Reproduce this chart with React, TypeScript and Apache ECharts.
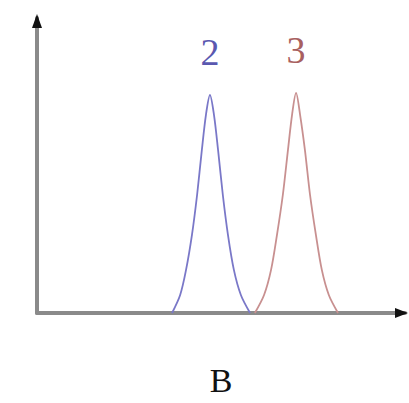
import React, { useEffect, useRef } from "react";
import * as echarts from "echarts";

// Peak "2" (blue) sample points: x position and intensity
const peak2X = [36.7, 38.9, 40.5, 42.1, 43.5, 44.8, 45.9, 47.0, 48.1, 49.2, 50.5, 51.9, 53.5, 55.4, 57.9];
const peak2Y = [0, 6.1, 14.6, 26.4, 40.0, 55.3, 67.1, 73.9, 67.1, 55.3, 40.0, 26.4, 14.6, 6.1, 0];

// Peak "3" (red) sample points
const peak3X = [59.2, 61.7, 63.6, 65.2, 66.8, 68.2, 69.3, 70.4, 71.5, 72.8, 74.2, 75.8, 77.4, 79.3, 81.8];
const peak3Y = [0, 6.1, 14.6, 26.4, 40.0, 55.3, 67.1, 74.6, 67.1, 55.3, 40.0, 26.4, 14.6, 6.1, 0];

const peakNames = ["2", "3"];
const axisName = "B";

const SERIF = "'Liberation Serif', 'DejaVu Serif', serif";

function pairs(xs: number[], ys: number[]) {
  return xs.map((x, i) => [x, ys[i]]);
}

// Text label sitting above the top of a peak
function peakLabel(xs: number[], ys: number[], text: string, color: string) {
  const top = ys.indexOf(Math.max(...ys));
  return {
    silent: true,
    symbol: "circle",
    symbolSize: 0,
    data: [
      {
        coord: [xs[top], ys[top]],
        label: {
          show: true,
          formatter: text,
          position: "top",
          distance: 24,
          color,
          fontFamily: SERIF,
          fontSize: 38,
        },
      },
    ],
  };
}

export default function App() {
  const ref = useRef<HTMLDivElement>(null);

  useEffect(() => {
    if (!ref.current) return;
    const chart = echarts.init(ref.current, null, { renderer: "svg" });
    chart.setOption({
      animation: false,
      backgroundColor: "#ffffff",
      grid: { left: 37, right: 4, top: 18, bottom: 90 },
      xAxis: {
        type: "value",
        min: 0,
        max: 100,
        name: axisName,
        nameLocation: "middle",
        nameGap: 50,
        nameTextStyle: { fontFamily: SERIF, fontSize: 34, color: "#111" },
        axisLine: { show: true, onZero: false, lineStyle: { color: "#8a8a8a", width: 4 } },
        axisTick: { show: false },
        axisLabel: { show: false },
        splitLine: { show: false },
      },
      yAxis: {
        type: "value",
        min: 0,
        max: 100,
        axisLine: { show: true, onZero: false, lineStyle: { color: "#8a8a8a", width: 4 } },
        axisTick: { show: false },
        axisLabel: { show: false },
        splitLine: { show: false },
      },
      series: [
        {
          type: "line",
          name: peakNames[0],
          smooth: 0.3,
          showSymbol: false,
          symbol: "none",
          lineStyle: { color: "#7a78c8", width: 1.8 },
          data: pairs(peak2X, peak2Y),
          markPoint: peakLabel(peak2X, peak2Y, peakNames[0], "#5a58b0"),
          z: 3,
        },
        {
          type: "line",
          name: peakNames[1],
          smooth: 0.3,
          showSymbol: false,
          symbol: "none",
          lineStyle: { color: "#c89090", width: 1.8 },
          data: pairs(peak3X, peak3Y),
          markPoint: peakLabel(peak3X, peak3Y, peakNames[1], "#a86060"),
          z: 3,
        },
      ],
      graphic: [
        {
          type: "polygon",
          shape: { points: [[37, 14], [32, 28], [42, 28]] },
          style: { fill: "#111" },
          z: 10,
        },
        {
          type: "polygon",
          shape: { points: [[408, 313], [395, 308], [395, 318]] },
          style: { fill: "#111" },
          z: 10,
        },
      ],
    });
    return () => chart.dispose();
  }, []);

  return (
    <div
      ref={ref}
      style={{ position: "absolute", left: 0, top: 0, width: 409, height: 403, background: "#fff" }}
    />
  );
}
